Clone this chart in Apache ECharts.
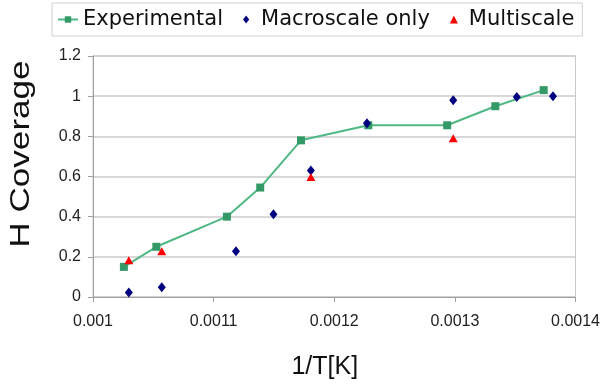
<!DOCTYPE html>
<html>
<head>
<meta charset="utf-8">
<script src="https://cdn.jsdelivr.net/npm/echarts@6/dist/echarts.min.js"></script>
<style>
  html, body { margin: 0; padding: 0; background: #fff; }
  #chart { width: 603px; height: 385px; }
</style>
</head>
<body>
<div id="chart"></div>
<script>
  // values (x = 1/T, y = H coverage)
  const expX = [0.0010256, 0.0010525, 0.001111, 0.0011386, 0.0011724, 0.0012282, 0.0012936, 0.0013335, 0.0013736];
  const expY = [0.15, 0.25, 0.40, 0.545, 0.78, 0.855, 0.855, 0.95, 1.03];
  const macroX = [0.0010297, 0.001057, 0.0011185, 0.0011496, 0.0011806, 0.0012271, 0.0012986, 0.0013513, 0.0013813];
  const macroY = [0.022, 0.048, 0.228, 0.412, 0.63, 0.865, 0.98, 0.996, 1.0];
  const multiX = [0.0010297, 0.001057, 0.0011806, 0.0012986];
  const multiY = [0.183, 0.228, 0.598, 0.79];

  const zip = (xs, ys) => xs.map((x, i) => [x, ys[i]]);

  const myChart = echarts.init(document.getElementById('chart'));
  let option = {
    backgroundColor: '#fff',
    animation: false,
    textStyle: { fontFamily: 'Liberation Sans, Arial, sans-serif' },
    legend: {
      top: 3,
      left: 52,
      itemGap: 20,
      itemWidth: 20,
      itemHeight: 8,
      symbolKeepAspect: true,
      padding: [6, 8, 6, 5],
      borderColor: '#d0d0d0',
      borderWidth: 1,
      textStyle: { fontSize: 21, color: '#111', fontFamily: 'DejaVu Sans' },
      data: [
        { name: 'Experimental' },
        { name: 'Macroscale only', icon: 'path://M0,-13 L10,0 L0,13 L-10,0 Z' },
        { name: 'Multiscale', icon: 'path://M0,-10 L10,10 L-10,10 Z' }
      ]
    },
    grid: {
      left: 93,
      right: 25,
      top: 56,
      bottom: 88,
      show: true,
      borderColor: '#c8c8c8',
      borderWidth: 1
    },
    graphic: [
      {
        type: 'text',
        x: 22,
        y: 154,
        rotation: Math.PI / 2,
        scaleX: 1.3,
        style: {
          text: 'H Coverage',
          font: '27px "Liberation Sans", Arial, sans-serif',
          fill: '#111',
          align: 'center',
          verticalAlign: 'middle'
        }
      }
    ],
    xAxis: {
      type: 'value',
      min: 0.001,
      max: 0.0014,
      interval: 0.0001,
      name: '1/T[K]',
      nameLocation: 'middle',
      nameGap: 58,
      nameTextStyle: { fontSize: 25, color: '#111', padding: [0, 19, 0, 0] },
      axisLine: { lineStyle: { color: '#a0a0a0' } },
      axisTick: { show: true, length: 5, lineStyle: { color: '#a0a0a0' } },
      axisLabel: {
        fontSize: 16, color: '#222', margin: 17,
        formatter: v => String(+v.toFixed(4))
      },
      splitLine: { show: false }
    },
    yAxis: {
      type: 'value',
      min: 0,
      max: 1.2,
      interval: 0.2,
      axisLine: { show: true, lineStyle: { color: '#a0a0a0' } },
      axisTick: { show: true, length: 5, lineStyle: { color: '#a0a0a0' } },
      axisLabel: {
        fontSize: 16, color: '#222', margin: 12,
        formatter: v => String(+v.toFixed(1))
      },
      splitLine: { lineStyle: { color: '#cccccc', width: 1.5 } }
    },
    series: [
      {
        name: 'Experimental',
        type: 'line',
        data: zip(expX, expY),
        symbol: 'rect',
        symbolSize: 8,
        itemStyle: { color: '#339966' },
        lineStyle: { color: '#4fb884', width: 2 },
        z: 2
      },
      {
        name: 'Macroscale only',
        type: 'scatter',
        data: zip(macroX, macroY),
        symbol: 'diamond',
        symbolSize: [8, 10],
        itemStyle: { color: '#000080', opacity: 1 },
        z: 3
      },
      {
        name: 'Multiscale',
        type: 'scatter',
        data: zip(multiX, multiY),
        symbol: 'triangle',
        symbolSize: [9, 8],
        itemStyle: { color: '#ff0000', opacity: 1 },
        z: 3
      }
    ]
  };
  myChart.setOption(option, true);
</script>
</body>
</html>
